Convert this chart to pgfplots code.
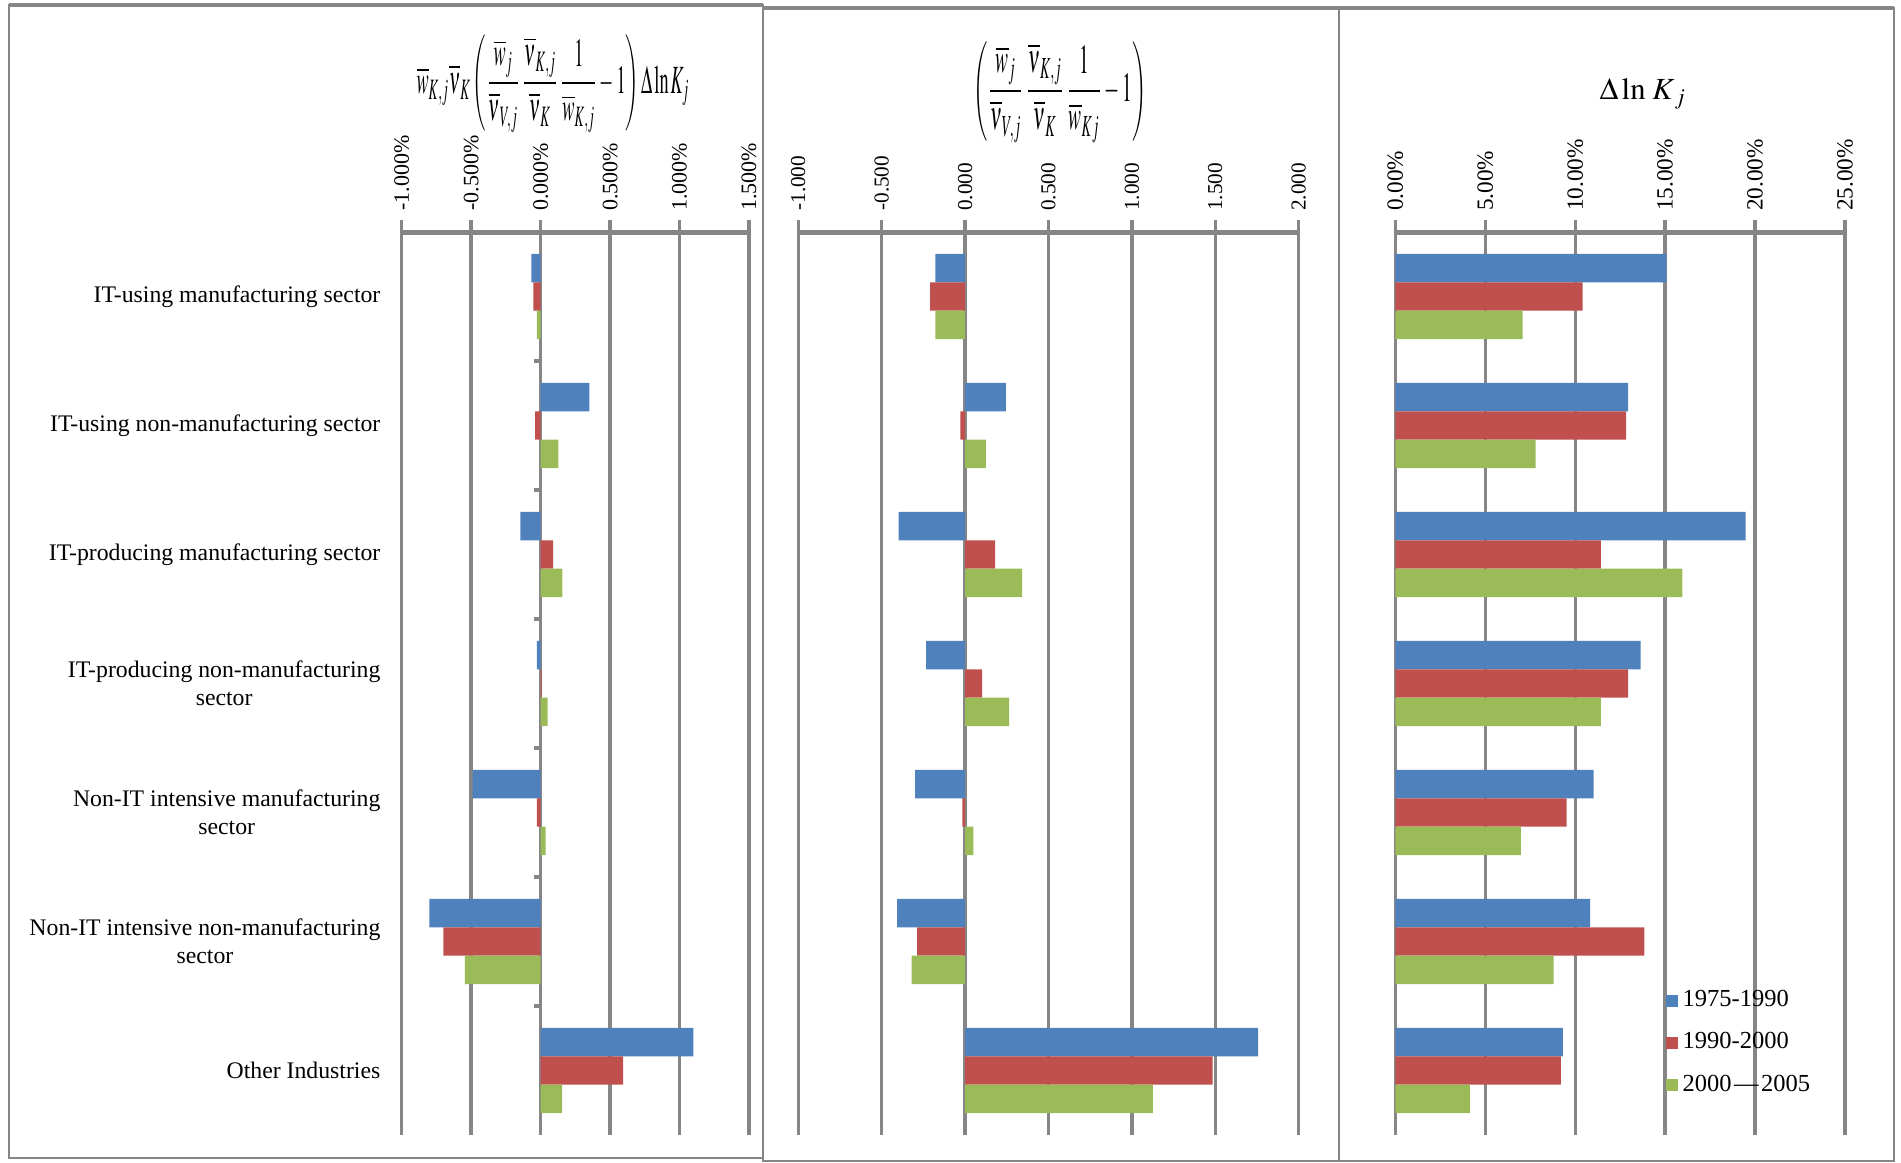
\documentclass[border=0pt]{standalone}
\usepackage{mathptmx}
\usepackage{fontspec}
\setmainfont{Liberation Serif}
\usepackage{graphicx}
\usepackage{pgfplots}
\usepackage{pgfplotstable}
\pgfplotsset{compat=1.18}

\definecolor{cblue}{HTML}{4F81BD}
\definecolor{cred}{HTML}{C0504D}
\definecolor{cgreen}{HTML}{9BBB59}
\definecolor{gridgray}{HTML}{868686}

% panel 1: percent
\pgfplotstableread{
cat blue red green
0 -0.067 -0.053 -0.027
1 0.351 -0.040 0.128
2 -0.145 0.090 0.157
3 -0.027 0.008 0.050
4 -0.490 -0.027 0.036
5 -0.800 -0.700 -0.545
6 1.100 0.593 0.155
}\dataA
% panel 2
\pgfplotstableread{
cat blue red green
0 -0.178 -0.210 -0.178
1 0.244 -0.028 0.124
2 -0.398 0.180 0.342
3 -0.234 0.102 0.264
4 -0.300 -0.016 0.050
5 -0.408 -0.288 -0.320
6 1.756 1.484 1.126
}\dataB
% panel 3: percent
\pgfplotstableread{
cat blue red green
0 15.07 10.41 7.07
1 12.94 12.83 7.80
2 19.48 11.43 15.96
3 13.63 12.94 11.43
4 11.02 9.52 6.98
5 10.83 13.85 8.80
6 9.31 9.20 4.15
}\dataC

\pgfplotsset{
  panel/.style={
    xbar, scale only axis, height=361.2pt,
    anchor=north west,
    ymin=-0.5, ymax=6.5, y dir=reverse,
    axis x line*=top, axis y line*=left,
    y axis line style={draw=none},
    x axis line style={gridgray, line width=2pt},
    xmajorgrids, major grid style={gridgray, line width=1.35pt},
    xtick style={gridgray, line width=1.35pt},
    ytick style={draw=none},
    tick align=outside, major tick length=5pt,
    xticklabel style={rotate=90, anchor=west},
    bar width=0.22,
  },
}

\begin{document}
\begin{tikzpicture}
\begin{scope}[x=0.4pt,y=-0.4pt]
\useasboundingbox (0,0) rectangle (1901,1162);
\end{scope}

% ---------- panel 1 ----------
\begin{axis}[panel,
  at={(160.68pt,-92.8pt)}, width=138.92pt,
  xmin=-1, xmax=1.5,
  xtick={-1,-0.5,0,0.5,1,1.5},
  xticklabels={-1.000\%,-0.500\%,0.000\%,0.500\%,1.000\%,1.500\%},
  xticklabel style={font=\fontsize{8.8}{10}\selectfont},
  ytick={0,1,2,3,4,5,6},
  yticklabels={{IT-using manufacturing sector},{IT-using non-manufacturing sector},{IT-producing manufacturing sector},{IT-producing non-manufacturing\\sector},{Non-IT intensive manufacturing\\sector},{Non-IT intensive non-manufacturing\\sector},{Other Industries}},
  yticklabel style={align=center, font=\fontsize{9.5}{11.2}\selectfont},
]
\addplot[fill=cblue, draw=none, bar shift=-0.22] table[x=blue,y=cat]{\dataA};
\addplot[fill=cred, draw=none, bar shift=0] table[x=red,y=cat]{\dataA};
\addplot[fill=cgreen, draw=none, bar shift=0.22] table[x=green,y=cat]{\dataA};
\pgfplotsinvokeforeach{0.5,1.5,2.5,3.5,4.5,5.5}{
  \draw[gridgray, line width=1.35pt] (axis cs:0,#1) -- ([xshift=-2.7pt]axis cs:0,#1);
}
\end{axis}

% ---------- panel 2 ----------
\begin{axis}[panel,
  at={(319.32pt,-92.8pt)}, width=200.16pt,
  xmin=-1, xmax=2,
  xtick={-1,-0.5,0,0.5,1,1.5,2},
  xticklabels={-1.000,-0.500,0.000,0.500,1.000,1.500,2.000},
  xticklabel style={font=\fontsize{8.5}{10}\selectfont},
  ytick=\empty,
]
\addplot[fill=cblue, draw=none, bar shift=-0.22] table[x=blue,y=cat]{\dataB};
\addplot[fill=cred, draw=none, bar shift=0] table[x=red,y=cat]{\dataB};
\addplot[fill=cgreen, draw=none, bar shift=0.22] table[x=green,y=cat]{\dataB};
\end{axis}

% ---------- panel 3 ----------
\begin{axis}[panel,
  at={(558.12pt,-92.8pt)}, width=179.88pt,
  xmin=0, xmax=25,
  xtick={0,5,10,15,20,25},
  xticklabels={0.00\%,5.00\%,10.00\%,15.00\%,20.00\%,25.00\%},
  xticklabel style={font=\fontsize{9.3}{10}\selectfont},
  ytick=\empty,
  legend style={at={(0.6,0.166)}, anchor=north west, draw=none, fill=none,
    inner sep=0pt, row sep=4.8pt, font=\fontsize{9.8}{10}\selectfont},
  legend cell align=left,
  legend image code/.code={\fill[#1] (0pt,-2.4pt) rectangle (4.8pt,2.4pt);},
]
\addplot[fill=cblue, draw=none, bar shift=-0.22] table[x=blue,y=cat]{\dataC};
\addplot[fill=cred, draw=none, bar shift=0] table[x=red,y=cat]{\dataC};
\addplot[fill=cgreen, draw=none, bar shift=0.22] table[x=green,y=cat]{\dataC};
\legend{1975-1990,1990-2000,2000\kern1pt—\kern1pt2005}
\end{axis}

\begin{scope}[x=0.4pt,y=-0.4pt]
% panel borders
\draw[gridgray, line width=0.7pt] (9,5) rectangle (763,1158);
\draw[gridgray, line width=0.7pt] (763,8) rectangle (1339,1161);
\draw[gridgray, line width=0.7pt] (1339,8) rectangle (1894,1161);
\draw[gridgray, line width=1.8pt] (9,5) -- (763,5);
\draw[gridgray, line width=1.8pt] (763,8) -- (1894,8);
% titles
\node at (553,84) {\resizebox{109.2pt}{23.2pt}{$\displaystyle \overline{w}_{K,j}\overline{\nu}_{K}\left(\frac{\overline{w}_{j}}{\overline{\nu}_{V,j}}\,\frac{\overline{\nu}_{K,j}}{\overline{\nu}_{K}}\,\frac{1}{\overline{w}_{K,j}}-1\right)\Delta\ln K_{j}$}};
\node at (1060,92) {\resizebox{69.2pt}{24pt}{$\displaystyle \left(\frac{\overline{w}_{j}}{\overline{\nu}_{V,j}}\,\frac{\overline{\nu}_{K,j}}{\overline{\nu}_{K}}\,\frac{1}{\overline{w}_{Kj}}-1\right)$}};
\node at (1643,94) {\resizebox{34.8pt}{!}{$\Delta\ln\,K_{\,j}$}};
\end{scope}
\end{tikzpicture}
\end{document}
